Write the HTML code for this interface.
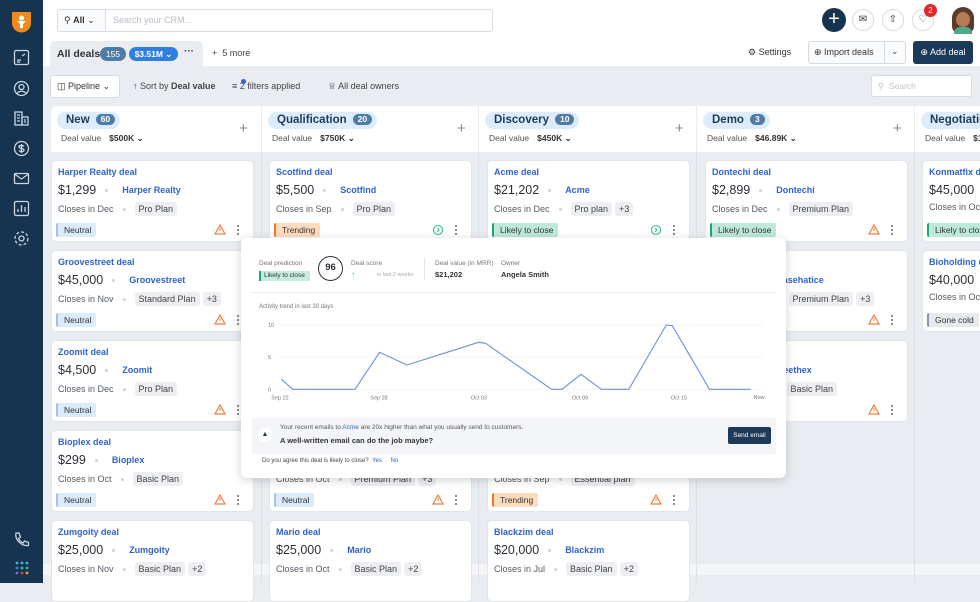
<!DOCTYPE html>
<html><head><meta charset="utf-8">
<style>
*{box-sizing:border-box;margin:0;padding:0}
body{width:980px;height:583px;overflow:hidden;position:relative;background:#e9edf2;font-family:"Liberation Sans",sans-serif;color:#2b2f36}
.a{position:absolute}
.side{left:0;top:0;width:43px;height:583px;background:#163350}
.top{left:43px;top:0;width:937px;height:66px;background:#fff}
.card{position:absolute;width:203px;height:82px;background:#fff;border-radius:5px;border:1px solid #e1e5ea}
.card .t{position:absolute;left:6px;top:6px;font-size:9px;font-weight:bold;color:#2f63c9}
.card .v{position:absolute;left:6px;top:22px;font-size:12.5px;color:#2b2f36;white-space:nowrap}
.card .v b{font-size:9px;color:#2f63c9;margin-left:5px;vertical-align:1px}
.dot{display:inline-block;width:3px;height:3px;border-radius:50%;background:#ccd2da;vertical-align:middle;margin:0 9px}
.card .c{position:absolute;left:6px;top:41px;font-size:9px;color:#555b64;white-space:nowrap}
.tag{display:inline-block;background:#eceef1;border-radius:3px;padding:2px 4px;color:#444;margin-right:3px}
.bd{position:absolute;left:4px;top:62px;height:14px;line-height:14px;font-size:8.5px;padding:0 5px 0 6px;border-radius:2px;border-left:2px solid}
.neu{background:#dcebfb;border-color:#a6c3e3;color:#333}
.tre{background:#fddcbd;border-color:#f07a2a;color:#333}
.lik{background:#bde8da;border-color:#1ea57b;color:#333}
.gon{background:#e6e9ed;border-color:#8b97a6;color:#333}
.warn{position:absolute;left:162px;top:63px}
.more{position:absolute;left:185px;top:62px;width:4px}
.more i{display:block;width:2px;height:2px;background:#666;border-radius:50%;margin:2px 0}
.hdr{position:absolute;top:106px;height:46px;background:#fff}
.pill{position:absolute;left:6px;top:6px;height:17px;background:#dcecfb;border-radius:9px;padding:0 5px 0 9px;font-size:11.5px;font-weight:bold;color:#1f3a58;line-height:17px;white-space:nowrap}
.pill span{display:inline-block;background:#4f7ca7;color:#fff;font-size:8.5px;border-radius:6px;padding:0 5px;line-height:11px;margin-left:6px;vertical-align:1px}
.dv{position:absolute;left:10px;top:27px;font-size:8.5px;color:#555;white-space:nowrap}
.dv b{margin-left:8px;color:#333}
.plus{position:absolute;top:14px;font-size:15px;color:#888;font-weight:normal}
.vl{position:absolute;top:152px;width:1px;height:431px;background:#dde2e8}
.ic{position:absolute;left:13px;width:17px;height:17px}
</style></head><body>
<div class="a side"></div>
<svg class="a" style="left:10px;top:10px" width="23" height="23"><path d="M2 2h19v11a9.5 9.5 0 0 1-19 0z" fill="#f08a1d"/><circle cx="11.5" cy="8" r="2.5" fill="#fff"/><path d="M7 11h9l-3 3v4h-3v-4z" fill="#fff"/></svg>
<svg class="ic" style="top:49px" viewBox="0 0 17 17" fill="none" stroke="#c9d5e1" stroke-width="1.3"><rect x="1.5" y="1.5" width="14" height="14" rx="1.5"/><path d="M4 11h4M4 13h3M9 7l3-2"/></svg>
<svg class="ic" style="top:80px" viewBox="0 0 17 17" fill="none" stroke="#c9d5e1" stroke-width="1.3"><circle cx="8.5" cy="8.5" r="7"/><circle cx="8.5" cy="7" r="2.5"/><path d="M4 13.5c2-3 7-3 9 0"/></svg>
<svg class="ic" style="top:110px" viewBox="0 0 17 17" fill="none" stroke="#c9d5e1" stroke-width="1.3"><rect x="2" y="2" width="7" height="13"/><rect x="9" y="7" width="6" height="8"/><path d="M4 5h3M4 8h3M4 11h3M11 10h2M11 12h2"/></svg>
<svg class="ic" style="top:140px" viewBox="0 0 17 17" fill="none" stroke="#c9d5e1" stroke-width="1.3"><circle cx="8.5" cy="8.5" r="7"/><path d="M8.5 4v9M11 6.5c-1-1.5-5-1.5-5 .5s5 1 5 3-4 2-5 .5"/></svg>
<svg class="ic" style="top:170px" viewBox="0 0 17 17" fill="none" stroke="#c9d5e1" stroke-width="1.3"><rect x="1.5" y="3.5" width="14" height="10" rx="1"/><path d="M1.5 4l7 5 7-5"/></svg>
<svg class="ic" style="top:200px" viewBox="0 0 17 17" fill="none" stroke="#c9d5e1" stroke-width="1.3"><rect x="1.5" y="1.5" width="14" height="14" rx="1.5"/><path d="M5 12V9M8.5 12V5M12 12V7"/></svg>
<svg class="ic" style="top:230px" viewBox="0 0 17 17" fill="none" stroke="#c9d5e1" stroke-width="1.3"><circle cx="8.5" cy="8.5" r="2.5"/><circle cx="8.5" cy="8.5" r="6.5" stroke-dasharray="3 2"/></svg>
<svg class="ic" style="top:531px" viewBox="0 0 17 17" fill="none" stroke="#c9d5e1" stroke-width="1.3"><path d="M3 2l3 0 1.5 4-2 1.5c1 2 2.5 3.5 4.5 4.5l1.5-2 4 1.5v3c-7 1-14-6-12.5-12.5z"/></svg>
<svg class="a" style="left:15px;top:561px" width="14" height="14"><g><circle cx="2" cy="2" r="1.4" fill="#3fb6e8"/><circle cx="7" cy="2" r="1.4" fill="#3fb6e8"/><circle cx="12" cy="2" r="1.4" fill="#3fb6e8"/><circle cx="2" cy="7" r="1.4" fill="#2e8bd8"/><circle cx="7" cy="7" r="1.4" fill="#2fbf8a"/><circle cx="12" cy="7" r="1.4" fill="#2fbf8a"/><circle cx="2" cy="12" r="1.4" fill="#9a5ed6"/><circle cx="7" cy="12" r="1.4" fill="#e8443a"/><circle cx="12" cy="12" r="1.4" fill="#f2a13a"/></g></svg>

<div class="a top"></div>
<div class="a" style="left:57px;top:9px;width:436px;height:23px;border:1px solid #d7dce2;border-radius:3px;background:#fff"></div>
<div class="a" style="left:57px;top:9px;width:49px;height:23px;border:1px solid #d7dce2;border-radius:3px 0 0 3px;background:#fafbfc;font-size:9px;line-height:21px;padding-left:6px;color:#333">&#9906; <b>All</b> &#8964;</div>
<div class="a" style="left:113px;top:15px;font-size:9px;color:#b8bec6">Search your CRM...</div>
<div class="a" style="left:822px;top:8px;width:24px;height:24px;border-radius:50%;background:#163350;color:#fff;font-size:20px;line-height:22px;text-align:center">+</div>
<div class="a" style="left:852px;top:9px;width:22px;height:22px;border-radius:50%;border:1px solid #d5dae0;font-size:10px;line-height:20px;text-align:center;color:#333">&#9993;</div>
<div class="a" style="left:882px;top:9px;width:22px;height:22px;border-radius:50%;border:1px solid #d5dae0;font-size:10px;line-height:20px;text-align:center;color:#333">&#8679;</div>
<div class="a" style="left:912px;top:9px;width:22px;height:22px;border-radius:50%;border:1px solid #d5dae0;font-size:10px;line-height:20px;text-align:center;color:#333">&#9825;</div>
<div class="a" style="left:924px;top:4px;width:13px;height:13px;border-radius:50%;background:#e5252a;color:#fff;font-size:8px;line-height:13px;text-align:center">2</div>
<div class="a" style="left:952px;top:7px;width:22px;height:27px;border-radius:11px 11px 8px 8px;background:#5a3a2a"></div>
<div class="a" style="left:956px;top:12px;width:14px;height:15px;border-radius:50%;background:#b37b58"></div>
<div class="a" style="left:954px;top:27px;width:18px;height:7px;border-radius:6px 6px 0 0;background:#4fa88a"></div>

<div class="a" style="left:50px;top:41px;width:153px;height:25px;background:#e9edf2;border-radius:5px 5px 0 0"></div>
<div class="a" style="left:57px;top:48px;font-size:10.5px;font-weight:bold;color:#333">All deals</div>
<div class="a" style="left:100px;top:47px;width:26px;height:14px;border-radius:7px;background:#4f7ca7;color:#fff;font-size:8.5px;line-height:14px;text-align:center">155</div>
<div class="a" style="left:129px;top:47px;width:49px;height:14px;border-radius:7px;background:#2f7ee0;color:#fff;font-size:8.5px;line-height:14px;text-align:center;font-weight:bold">$3.51M &#8964;</div>
<div class="a" style="left:184px;top:46px;font-size:10px;color:#444;font-weight:bold">&middot;&middot;&middot;</div>
<div class="a" style="left:212px;top:48px;font-size:9px;color:#444">+ &nbsp;5 more</div>
<div class="a" style="left:748px;top:47px;font-size:9px;color:#333">&#9881; Settings</div>
<div class="a" style="left:808px;top:41px;width:98px;height:23px;border:1px solid #d5dae0;border-radius:3px;background:#fafbfc"></div>
<div class="a" style="left:884px;top:41px;width:1px;height:23px;background:#d5dae0"></div>
<div class="a" style="left:814px;top:47px;font-size:9px;color:#333">&#8853; Import deals</div>
<div class="a" style="left:891px;top:46px;font-size:9px;color:#444">&#8964;</div>
<div class="a" style="left:913px;top:41px;width:60px;height:23px;border-radius:3px;background:#1b3a5a;color:#fff;font-size:9px;line-height:23px;text-align:center">&#8853; Add deal</div>

<div class="a" style="left:50px;top:75px;width:70px;height:23px;background:#fff;border:1px solid #d7dce2;border-radius:3px;font-size:9px;line-height:21px;padding-left:6px;color:#333">&#9707; Pipeline &#8964;</div>
<div class="a" style="left:133px;top:81px;font-size:9px;color:#444">&#8593; Sort by <b>Deal value</b></div>
<div class="a" style="left:232px;top:81px;font-size:9px;color:#444">&#8801; 2 filters applied</div>
<div class="a" style="left:241px;top:79px;width:5px;height:5px;border-radius:50%;background:#2f63c9"></div>
<div class="a" style="left:328px;top:81px;font-size:9px;color:#444">&#9813; All deal owners</div>
<div class="a" style="left:871px;top:75px;width:101px;height:22px;background:#fff;border:1px solid #d7dce2;border-radius:3px;font-size:8.5px;line-height:20px;padding-left:6px;color:#bcc2ca">&#9906; &nbsp;Search</div>

<div class="hdr" style="left:51px;width:210px;border-radius:5px 0 0 0"><div class="pill">New<span>60</span></div><div class="dv">Deal value<b>$500K &#8964;</b></div><div class="plus" style="left:188px">+</div></div>
<div class="hdr" style="left:262px;width:216px"><div class="pill">Qualification<span>20</span></div><div class="dv">Deal value<b>$750K &#8964;</b></div><div class="plus" style="left:195px">+</div></div>
<div class="hdr" style="left:479px;width:217px"><div class="pill">Discovery<span>10</span></div><div class="dv">Deal value<b>$450K &#8964;</b></div><div class="plus" style="left:196px">+</div></div>
<div class="hdr" style="left:697px;width:217px"><div class="pill">Demo<span>3</span></div><div class="dv">Deal value<b>$46.89K &#8964;</b></div><div class="plus" style="left:196px">+</div></div>
<div class="hdr" style="left:915px;width:65px"><div class="pill">Negotiation</div><div class="dv">Deal value<b>$1</b></div></div>
<div class="a" style="left:43px;top:564px;width:937px;height:11px;background:#f3f5f7"></div>
<div class="vl" style="left:261px"></div><div class="vl" style="left:478px"></div><div class="vl" style="left:696px"></div><div class="vl" style="left:914px"></div>

<!-- col1 -->
<div class="card" style="left:51px;top:160px"><div class="t">Harper Realty deal</div><div class="v">$1,299<span class="dot"></span><b>Harper Realty</b></div><div class="c">Closes in Dec<span class="dot"></span><span class="tag">Pro Plan</span></div><div class="bd neu">Neutral</div><svg class="warn" width="12" height="11"><path d="M6 1L11 10H1z" fill="none" stroke="#ef7d3c" stroke-width="1.2"/><path d="M6 4v3" stroke="#ef7d3c"/></svg><div class="more"><i></i><i></i><i></i></div></div>
<div class="card" style="left:51px;top:250px"><div class="t">Groovestreet deal</div><div class="v">$45,000<span class="dot"></span><b>Groovestreet</b></div><div class="c">Closes in Nov<span class="dot"></span><span class="tag">Standard Plan</span><span class="tag">+3</span></div><div class="bd neu">Neutral</div><svg class="warn" width="12" height="11"><path d="M6 1L11 10H1z" fill="none" stroke="#ef7d3c" stroke-width="1.2"/><path d="M6 4v3" stroke="#ef7d3c"/></svg><div class="more"><i></i><i></i><i></i></div></div>
<div class="card" style="left:51px;top:340px"><div class="t">Zoomit deal</div><div class="v">$4,500<span class="dot"></span><b>Zoomit</b></div><div class="c">Closes in Dec<span class="dot"></span><span class="tag">Pro Plan</span></div><div class="bd neu">Neutral</div><svg class="warn" width="12" height="11"><path d="M6 1L11 10H1z" fill="none" stroke="#ef7d3c" stroke-width="1.2"/><path d="M6 4v3" stroke="#ef7d3c"/></svg><div class="more"><i></i><i></i><i></i></div></div>
<div class="card" style="left:51px;top:430px"><div class="t">Bioplex deal</div><div class="v">$299<span class="dot"></span><b>Bioplex</b></div><div class="c">Closes in Oct<span class="dot"></span><span class="tag">Basic Plan</span></div><div class="bd neu">Neutral</div><svg class="warn" width="12" height="11"><path d="M6 1L11 10H1z" fill="none" stroke="#ef7d3c" stroke-width="1.2"/><path d="M6 4v3" stroke="#ef7d3c"/></svg><div class="more"><i></i><i></i><i></i></div></div>
<div class="card" style="left:51px;top:520px"><div class="t">Zumgoity deal</div><div class="v">$25,000<span class="dot"></span><b>Zumgoity</b></div><div class="c">Closes in Nov<span class="dot"></span><span class="tag">Basic Plan</span><span class="tag">+2</span></div></div>
<!-- col2 -->
<div class="card" style="left:269px;top:160px"><div class="t">Scotfind deal</div><div class="v">$5,500<span class="dot"></span><b>Scotfind</b></div><div class="c">Closes in Sep<span class="dot"></span><span class="tag">Pro Plan</span></div><div class="bd tre">Trending</div><svg class="warn" width="12" height="12"><circle cx="6" cy="6" r="4.5" fill="none" stroke="#2fbf8a" stroke-width="1.1"/><path d="M5 4l2 2-2 2" fill="none" stroke="#2fbf8a"/></svg><div class="more"><i></i><i></i><i></i></div></div>
<div class="card" style="left:269px;top:250px"></div>
<div class="card" style="left:269px;top:340px"></div>
<div class="card" style="left:269px;top:430px"><div class="c">Closes in Oct<span class="dot"></span><span class="tag">Premium Plan</span><span class="tag">+3</span></div><div class="bd neu">Neutral</div><svg class="warn" width="12" height="11"><path d="M6 1L11 10H1z" fill="none" stroke="#ef7d3c" stroke-width="1.2"/><path d="M6 4v3" stroke="#ef7d3c"/></svg><div class="more"><i></i><i></i><i></i></div></div>
<div class="card" style="left:269px;top:520px"><div class="t">Mario deal</div><div class="v">$25,000<span class="dot"></span><b>Mario</b></div><div class="c">Closes in Oct<span class="dot"></span><span class="tag">Basic Plan</span><span class="tag">+2</span></div></div>
<!-- col3 -->
<div class="card" style="left:487px;top:160px"><div class="t">Acme deal</div><div class="v">$21,202<span class="dot"></span><b>Acme</b></div><div class="c">Closes in Dec<span class="dot"></span><span class="tag">Pro plan</span><span class="tag">+3</span></div><div class="bd lik">Likely to close</div><svg class="warn" width="12" height="12"><circle cx="6" cy="6" r="4.5" fill="none" stroke="#2fbf8a" stroke-width="1.1"/><path d="M5 4l2 2-2 2" fill="none" stroke="#2fbf8a"/></svg><div class="more"><i></i><i></i><i></i></div></div>
<div class="card" style="left:487px;top:250px"></div>
<div class="card" style="left:487px;top:340px"></div>
<div class="card" style="left:487px;top:430px"><div class="c">Closes in Sep<span class="dot"></span><span class="tag">Essential plan</span></div><div class="bd tre">Trending</div><svg class="warn" width="12" height="11"><path d="M6 1L11 10H1z" fill="none" stroke="#ef7d3c" stroke-width="1.2"/><path d="M6 4v3" stroke="#ef7d3c"/></svg><div class="more"><i></i><i></i><i></i></div></div>
<div class="card" style="left:487px;top:520px"><div class="t">Blackzim deal</div><div class="v">$20,000<span class="dot"></span><b>Blackzim</b></div><div class="c">Closes in Jul<span class="dot"></span><span class="tag">Basic Plan</span><span class="tag">+2</span></div></div>
<!-- col4 -->
<div class="card" style="left:705px;top:160px"><div class="t">Dontechi deal</div><div class="v">$2,899<span class="dot"></span><b>Dontechi</b></div><div class="c">Closes in Dec<span class="dot"></span><span class="tag">Premium Plan</span></div><div class="bd lik">Likely to close</div><svg class="warn" width="12" height="11"><path d="M6 1L11 10H1z" fill="none" stroke="#ef7d3c" stroke-width="1.2"/><path d="M6 4v3" stroke="#ef7d3c"/></svg><div class="more"><i></i><i></i><i></i></div></div>
<div class="card" style="left:705px;top:250px"><div class="t">Basehatice deal</div><div class="v">$9,000<span class="dot"></span><b>Basehatice</b></div><div class="c">Closes in Nov<span class="dot"></span><span class="tag">Premium Plan</span><span class="tag">+3</span></div><svg class="warn" width="12" height="11"><path d="M6 1L11 10H1z" fill="none" stroke="#ef7d3c" stroke-width="1.2"/><path d="M6 4v3" stroke="#ef7d3c"/></svg><div class="more"><i></i><i></i><i></i></div></div>
<div class="card" style="left:705px;top:340px"><div class="t">Geethex deal</div><div class="v">$8,000<span class="dot"></span><b>Geethex</b></div><div class="c">Closes in Oct<span class="dot"></span><span class="tag">Basic Plan</span></div><svg class="warn" width="12" height="11"><path d="M6 1L11 10H1z" fill="none" stroke="#ef7d3c" stroke-width="1.2"/><path d="M6 4v3" stroke="#ef7d3c"/></svg><div class="more"><i></i><i></i><i></i></div></div>
<!-- col5 -->
<div class="card" style="left:922px;top:160px"><div class="t">Konmatfix deal</div><div class="v">$45,000</div><div class="c">Closes in Oct</div><div class="bd lik">Likely to close</div></div>
<div class="card" style="left:922px;top:250px"><div class="t">Bioholding deal</div><div class="v">$40,000</div><div class="c">Closes in Oct</div><div class="bd gon">Gone cold</div></div>

<!-- popup -->
<div class="a" style="left:241px;top:238px;width:545px;height:240px;background:#fff;border-radius:6px;box-shadow:0 2px 10px rgba(0,0,0,.18)"></div>
<div class="a" style="left:259px;top:260px;font-size:6.5px;color:#777">Deal prediction</div>
<div class="a" style="left:259px;top:271px;width:51px;height:10px;background:#c6ebdf;border-left:2px solid #1ea57b;font-size:6.5px;line-height:10px;padding-left:3px;color:#333">Likely to close</div>
<div class="a" style="left:318px;top:256px;width:25px;height:25px;border-radius:50%;border:1.5px solid #333;font-size:9.5px;font-weight:bold;line-height:22px;text-align:center">96</div>
<div class="a" style="left:351px;top:260px;font-size:6.5px;color:#777">Deal score</div>
<div class="a" style="left:351px;top:270px;font-size:8px;color:#2fbf8a">&#8593;</div>
<div class="a" style="left:377px;top:272px;font-size:5.5px;color:#aaa">in last 2 weeks</div>
<div class="a" style="left:424px;top:258px;width:1px;height:22px;background:#e3e6ea"></div>
<div class="a" style="left:435px;top:260px;font-size:6.5px;color:#777">Deal value (in MRR)</div>
<div class="a" style="left:435px;top:270px;font-size:7.5px;font-weight:bold;color:#333">$21,202</div>
<div class="a" style="left:501px;top:260px;font-size:6.5px;color:#777">Owner</div>
<div class="a" style="left:501px;top:270px;font-size:7.5px;font-weight:bold;color:#333">Angela Smith</div>
<div class="a" style="left:251px;top:292px;width:525px;height:1px;background:#eceef1"></div>
<div class="a" style="left:259px;top:304px;font-size:6px;color:#777">Activity trend in last 30 days</div>
<svg class="a" style="left:241px;top:238px" width="545" height="240">
<g transform="translate(-241,-238)" font-family="Liberation Sans,sans-serif" font-size="5.5" fill="#777">
<line x1="278" y1="325" x2="763" y2="325" stroke="#eef0f3" stroke-width="0.8"/>
<line x1="278" y1="357" x2="763" y2="357" stroke="#eef0f3" stroke-width="0.8"/>
<line x1="278" y1="389.5" x2="763" y2="389.5" stroke="#eef0f3" stroke-width="0.8"/>
<text x="268" y="327">10</text><text x="268" y="359">5</text><text x="268" y="391.5">0</text>
<text x="280" y="399.5" text-anchor="middle">Sep 22</text><text x="379" y="399.5" text-anchor="middle">Sep 28</text><text x="479" y="399.5" text-anchor="middle">Oct 03</text><text x="580" y="399.5" text-anchor="middle">Oct 09</text><text x="679" y="399.5" text-anchor="middle">Oct 15</text><text x="759" y="399" text-anchor="middle">Now</text>
<polyline fill="none" stroke="#6b8fe0" stroke-width="1.1" stroke-linejoin="round" points="281.4,379 292.6,389.3 355,389.3 379.6,352.3 407,365 478.6,342.3 485.6,343.3 551.6,389.3 562,389.3 581,374.3 601.4,389.3 628.8,389.3 666.3,325 672.3,325.7 709.5,389.3 750.5,389.3"/>
</g></svg>
<div class="a" style="left:252px;top:418px;width:524px;height:36px;background:#f3f5f8"></div>
<div class="a" style="left:258px;top:428px;width:14px;height:14px;border-radius:50%;background:#fff;font-size:7px;line-height:14px;text-align:center;color:#1b3a5a">&#9650;</div>
<div class="a" style="left:280px;top:424px;font-size:6.5px;color:#555">Your recent emails to <span style="color:#2f63c9">Acme</span> are 20x higher than what you usually send to customers.</div>
<div class="a" style="left:280px;top:436px;font-size:7.5px;color:#333;font-weight:bold">A well-written email can do the job maybe?</div>
<div class="a" style="left:728px;top:427px;width:43px;height:17px;border-radius:2px;background:#1f3a58;color:#fff;font-size:6.5px;line-height:17px;text-align:center">Send email</div>
<div class="a" style="left:262px;top:458px;font-size:6px;color:#444">Do you agree this deal is likely to close? &nbsp;<span style="color:#2f63c9">Yes</span> &nbsp;<span style="color:#ccc">&middot;</span>&nbsp; <span style="color:#2f63c9">No</span></div>
</body></html>
